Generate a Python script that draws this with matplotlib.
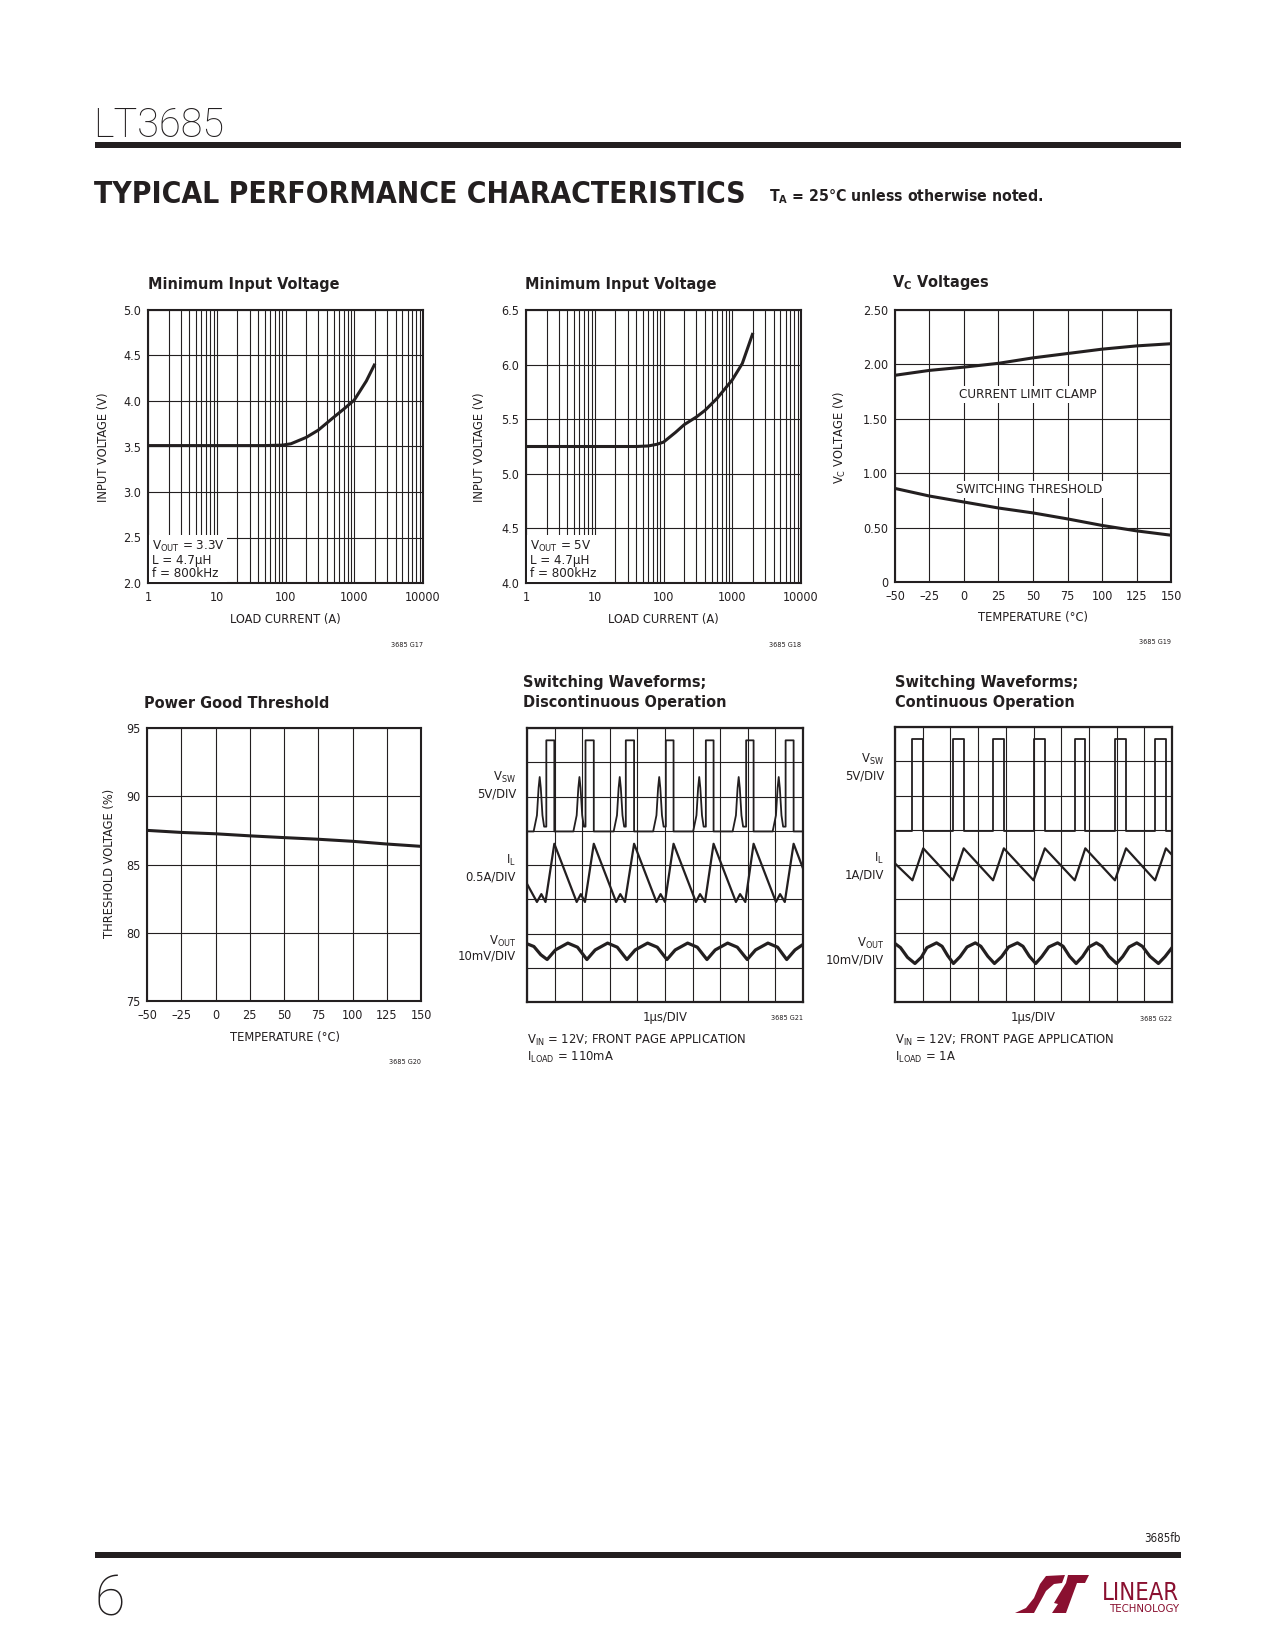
import matplotlib
matplotlib.use('Agg')
import matplotlib.pyplot as plt
from matplotlib.patches import Rectangle, Polygon
from matplotlib.ticker import LogLocator, NullFormatter, FixedLocator

# ---------------- data ----------------
load1 = [1, 10, 50, 90, 120, 200, 300, 500, 700, 1000, 1500, 2000]
vin1 = [3.51, 3.51, 3.51, 3.515, 3.53, 3.60, 3.68, 3.82, 3.91, 4.01, 4.22, 4.41]

load2 = [1, 10, 40, 60, 80, 100, 150, 200, 300, 400, 600, 1000, 1400, 2000]
vin2 = [5.25, 5.25, 5.25, 5.255, 5.27, 5.29, 5.38, 5.45, 5.52, 5.58, 5.69, 5.86, 6.01, 6.29]

temp = [-50, -25, 0, 25, 50, 75, 100, 125, 150]
vc_clamp = [1.90, 1.945, 1.975, 2.01, 2.06, 2.10, 2.14, 2.17, 2.19]
vc_switch = [0.86, 0.79, 0.735, 0.68, 0.635, 0.58, 0.52, 0.47, 0.43]
pg_thresh = [87.5, 87.35, 87.25, 87.1, 86.97, 86.85, 86.7, 86.5, 86.33]

log_ticks = [1, 10, 100, 1000, 10000]
log_ticklabels = ['1', '10', '100', '1000', '10000']
temp_ticks = [-50, -25, 0, 25, 50, 75, 100, 125, 150]
temp_ticklabels = ['\u201350', '\u201325', '0', '25', '50', '75', '100', '125', '150']

# scope traces (x in divisions 0..10, y in divisions 0..8)
dcm_sw_ring = [0.46, 1.90, 3.36, 4.79, 6.24, 7.67, 9.12]
dcm_sw_rise = [0.70, 2.12, 3.58, 5.03, 6.48, 7.94, 9.37]
dcm_sw_fall = [0.99, 2.42, 3.88, 5.31, 6.76, 8.21, 9.66]
dcm_sw_levels = {'base': 4.98, 'ring': 6.57, 'high': 7.64}

dcm_il_t = [0, 0.36, 0.52, 0.67, 0.99, 1.80, 1.95, 2.10, 2.42, 3.23, 3.38, 3.55, 3.88,
            4.69, 4.84, 5.00, 5.31, 6.12, 6.27, 6.45, 6.76, 7.57, 7.72, 7.91, 8.21,
            9.02, 9.17, 9.34, 9.66, 10.0]
dcm_il_v = [3.45, 2.92, 3.15, 2.92, 4.62, 2.92, 3.15, 2.92, 4.62, 2.92, 3.15, 2.92, 4.62,
            2.92, 3.15, 2.92, 4.62, 2.92, 3.15, 2.92, 4.62, 2.92, 3.15, 2.92, 4.62,
            2.92, 3.15, 2.92, 4.62, 3.90]

dcm_vout_t = [0, 0.25, 0.5, 0.73, 1.03, 1.48, 1.83, 2.17, 2.47, 2.92, 3.27, 3.62,
              3.92, 4.37, 4.72, 5.07, 5.37, 5.82, 6.17, 6.52, 6.82, 7.27, 7.62, 7.98,
              8.28, 8.73, 9.08, 9.41, 9.71, 10.0]
dcm_vout_v = [1.70, 1.62, 1.38, 1.24, 1.52, 1.72, 1.60, 1.24, 1.52, 1.72, 1.60, 1.24,
              1.52, 1.72, 1.60, 1.24, 1.52, 1.72, 1.60, 1.24, 1.52, 1.72, 1.60, 1.24,
              1.52, 1.72, 1.60, 1.24, 1.52, 1.68]

ccm_sw_rise = [0.63, 2.09, 3.54, 5.00, 6.49, 7.94, 9.39]
ccm_sw_fall = [1.02, 2.48, 3.93, 5.41, 6.87, 8.34, 9.78]
ccm_sw_levels = {'base': 4.97, 'high': 7.65}

ccm_il_t = [0, 0.63, 1.02, 2.09, 2.48, 3.54, 3.93, 5.00, 5.41, 6.49, 6.87, 7.94, 8.34,
            9.39, 9.78, 10.0]
ccm_il_v = [4.03, 3.54, 4.47, 3.54, 4.47, 3.54, 4.47, 3.54, 4.47, 3.54, 4.47, 3.54, 4.47,
            3.54, 4.47, 4.28]

ccm_vout_t = [0, 0.2, 0.45, 0.72, 0.95, 1.15, 1.5, 1.7, 1.9, 2.11, 2.35, 2.6, 2.9, 3.1,
              3.35, 3.59, 3.85, 4.1, 4.42, 4.62, 4.85, 5.08, 5.3, 5.55, 5.87, 6.07, 6.3,
              6.54, 6.77, 7.0, 7.27, 7.47, 7.72, 8.0, 8.22, 8.45, 8.73, 8.93, 9.2, 9.51,
              9.75, 10.0]
ccm_vout_v = [1.70, 1.58, 1.30, 1.12, 1.30, 1.58, 1.72, 1.62, 1.35, 1.12, 1.32, 1.60, 1.72,
              1.62, 1.33, 1.12, 1.32, 1.60, 1.72, 1.62, 1.33, 1.12, 1.32, 1.60, 1.72, 1.62,
              1.33, 1.12, 1.32, 1.60, 1.72, 1.62, 1.33, 1.12, 1.32, 1.60, 1.72, 1.62, 1.33,
              1.12, 1.32, 1.58]

# ---------------- figure ----------------
W, H = 1275, 1650
plt.rcParams['font.family'] = ['DejaVu Sans']
plt.rcParams['font.stretch'] = 'condensed'
plt.rcParams['mathtext.default'] = 'regular'
INK = '#231f20'

fig = plt.figure(figsize=(W / 100, H / 100), dpi=100)


def ax_px(l, t, r, b):
    return fig.add_axes([l / W, 1 - b / H, (r - l) / W, (b - t) / H])


def ftext(x, y, s, **kw):
    kw.setdefault('color', INK)
    return fig.text(x / W, 1 - y / H, s, **kw)


def frect(l, t, r, b, color):
    fig.add_artist(Rectangle((l / W, 1 - b / H), (r - l) / W, (b - t) / H,
                             transform=fig.transFigure, fc=color, ec='none'))


TICK_FS = 9.0
LAB_FS = 9.2
TITLE_FS = 11.6
CODE_FS = 5.2


def style_axes(ax):
    for sp in ax.spines.values():
        sp.set_linewidth(1.5)
        sp.set_color(INK)
    ax.tick_params(which='both', length=0, labelsize=TICK_FS, colors=INK)
    ax.tick_params(axis='x', pad=6.0)
    ax.tick_params(axis='y', pad=5)
    ax.set_axisbelow(True)


# ---------------- header ----------------
ftext(93, 137, 'LT3685', fontsize=28.5, family=['Roboto', 'DejaVu Sans'], fontweight='light',
      va='baseline', ha='left')
frect(95, 142, 1181, 148, INK)
ftext(94, 203, 'TYPICAL PERFORMANCE CHARACTERISTICS', fontsize=21.5, fontweight='bold',
      va='baseline', ha='left')
ftext(769, 201, r'T$_{A}$ = 25°C unless otherwise noted.', fontsize=11.3, fontweight='bold',
      va='baseline', ha='left')

# ---------------- chart 1 ----------------
ax1 = ax_px(148, 310, 423, 583)
ax1.set_xscale('log')
ax1.plot(load1, vin1, color=INK, lw=2.2, solid_capstyle='butt')
ax1.set_xlim(1, 10000)
ax1.set_ylim(2.0, 5.0)
ax1.set_xticks(log_ticks)
ax1.set_xticklabels(log_ticklabels)
ax1.xaxis.set_minor_locator(LogLocator(base=10, subs=range(2, 10)))
ax1.xaxis.set_minor_formatter(NullFormatter())
ax1.set_yticks([2.0, 2.5, 3.0, 3.5, 4.0, 4.5, 5.0])
ax1.set_yticklabels(['2.0', '2.5', '3.0', '3.5', '4.0', '4.5', '5.0'])
ax1.grid(which='both', color=INK, lw=0.8)
style_axes(ax1)
ax1.text(0.014, 0.012, 'V$_{OUT}$ = 3.3V\nL = 4.7\u03bcH\nf = 800kHz', transform=ax1.transAxes,
         fontsize=9.5, color=INK, ha='left', va='bottom', linespacing=1.0,
         bbox=dict(fc='white', ec='none', pad=2))
ftext(148, 285, 'Minimum Input Voltage', fontsize=TITLE_FS, fontweight='bold', va='center')
ftext(103, 447, 'INPUT VOLTAGE (V)', fontsize=LAB_FS, rotation=90, va='center', ha='center')
ftext(285, 620, 'LOAD CURRENT (A)', fontsize=LAB_FS, va='center', ha='center')
ftext(423, 645, '3685 G17', fontsize=CODE_FS, va='center', ha='right')

# ---------------- chart 2 ----------------
ax2 = ax_px(526, 310, 801, 583)
ax2.set_xscale('log')
ax2.plot(load2, vin2, color=INK, lw=2.2, solid_capstyle='butt')
ax2.set_xlim(1, 10000)
ax2.set_ylim(4.0, 6.5)
ax2.set_xticks(log_ticks)
ax2.set_xticklabels(log_ticklabels)
ax2.xaxis.set_minor_locator(LogLocator(base=10, subs=range(2, 10)))
ax2.xaxis.set_minor_formatter(NullFormatter())
ax2.set_yticks([4.0, 4.5, 5.0, 5.5, 6.0, 6.5])
ax2.set_yticklabels(['4.0', '4.5', '5.0', '5.5', '6.0', '6.5'])
ax2.grid(which='both', color=INK, lw=0.8)
style_axes(ax2)
ax2.text(0.014, 0.012, 'V$_{OUT}$ = 5V\nL = 4.7\u03bcH\nf = 800kHz', transform=ax2.transAxes,
         fontsize=9.5, color=INK, ha='left', va='bottom', linespacing=1.0,
         bbox=dict(fc='white', ec='none', pad=2))
ftext(525, 285, 'Minimum Input Voltage', fontsize=TITLE_FS, fontweight='bold', va='center')
ftext(480, 447, 'INPUT VOLTAGE (V)', fontsize=LAB_FS, rotation=90, va='center', ha='center')
ftext(663, 620, 'LOAD CURRENT (A)', fontsize=LAB_FS, va='center', ha='center')
ftext(801, 645, '3685 G18', fontsize=CODE_FS, va='center', ha='right')

# ---------------- chart 3 ----------------
ax3 = ax_px(895, 310, 1171, 582)
ax3.plot(temp, vc_clamp, color=INK, lw=2.2)
ax3.plot(temp, vc_switch, color=INK, lw=2.2)
ax3.set_xlim(-50, 150)
ax3.set_ylim(0, 2.5)
ax3.set_xticks(temp_ticks)
ax3.set_xticklabels(temp_ticklabels)
ax3.set_yticks([0, 0.5, 1.0, 1.5, 2.0, 2.5])
ax3.set_yticklabels(['0', '0.50', '1.00', '1.50', '2.00', '2.50'])
ax3.grid(color=INK, lw=0.8)
style_axes(ax3)
ax3.text(46, 1.72, 'CURRENT LIMIT CLAMP', fontsize=9.6, color=INK, ha='center', va='center',
         bbox=dict(fc='white', ec='none', pad=1.5))
ax3.text(47, 0.85, 'SWITCHING THRESHOLD', fontsize=9.6, color=INK, ha='center', va='center',
         bbox=dict(fc='white', ec='none', pad=1.5))
ftext(892, 283, 'V$_{C}$ Voltages', fontsize=TITLE_FS, fontweight='bold', va='center')
ftext(840, 437, 'V$_{C}$ VOLTAGE (V)', fontsize=LAB_FS, rotation=90, va='center', ha='center')
ftext(1033, 618, 'TEMPERATURE (°C)', fontsize=LAB_FS, va='center', ha='center')
ftext(1171, 642, '3685 G19', fontsize=CODE_FS, va='center', ha='right')

# ---------------- chart 4 ----------------
ax4 = ax_px(147, 728, 421, 1001)
ax4.plot(temp, pg_thresh, color=INK, lw=2.2)
ax4.set_xlim(-50, 150)
ax4.set_ylim(75, 95)
ax4.set_xticks(temp_ticks)
ax4.set_xticklabels(temp_ticklabels)
ax4.set_yticks([75, 80, 85, 90, 95])
ax4.set_yticklabels(['75', '80', '85', '90', '95'])
ax4.grid(color=INK, lw=0.8)
style_axes(ax4)
ftext(144, 703, 'Power Good Threshold', fontsize=TITLE_FS, fontweight='bold', va='center')
ftext(110, 863, 'THRESHOLD VOLTAGE (%)', fontsize=LAB_FS, rotation=90, va='center', ha='center')
ftext(285, 1038, 'TEMPERATURE (°C)', fontsize=LAB_FS, va='center', ha='center')
ftext(421, 1062, '3685 G20', fontsize=CODE_FS, va='center', ha='right')


# ---------------- scope charts ----------------
def scope_axes(l, t, r, b):
    ax = ax_px(l, t, r, b)
    ax.set_xlim(0, 10)
    ax.set_ylim(0, 8)
    ax.xaxis.set_major_locator(FixedLocator(range(11)))
    ax.yaxis.set_major_locator(FixedLocator(range(9)))
    ax.grid(color=INK, lw=0.8)
    ax.set_axisbelow(True)
    ax.tick_params(length=0, labelbottom=False, labelleft=False)
    for sp in ax.spines.values():
        sp.set_linewidth(1.6)
        sp.set_color(INK)
    return ax


SFS = 9.3

# discontinuous
ax5 = scope_axes(527, 728, 803, 1002)
lv = dcm_sw_levels
sx, sy = [0.0], [lv['base']]
for rp, r, f in zip(dcm_sw_ring, dcm_sw_rise, dcm_sw_fall):
    sx += [rp - 0.22, rp - 0.1, rp - 0.04, rp, rp + 0.04, rp + 0.1, rp + 0.16, r, r, f, f]
    sy += [lv['base'], 5.45, 6.25, lv['ring'], 6.25, 5.45, 5.12, 5.12, lv['high'], lv['high'], lv['base']]
sx += [10.0]
sy += [lv['base']]
ax5.plot(sx, sy, color=INK, lw=1.3)
ax5.plot(dcm_il_t, dcm_il_v, color=INK, lw=1.6)
ax5.plot(dcm_vout_t, dcm_vout_v, color=INK, lw=2.3)

ftext(523, 682, 'Switching Waveforms;', fontsize=TITLE_FS, fontweight='bold', va='center')
ftext(523, 703, 'Discontinuous Operation', fontsize=TITLE_FS, fontweight='bold', va='center')
ftext(516, 777, 'V$_{SW}$', fontsize=SFS, ha='right', va='center')
ftext(516, 794, '5V/DIV', fontsize=SFS, ha='right', va='center')
ftext(516, 860, 'I$_{L}$', fontsize=SFS, ha='right', va='center')
ftext(516, 877, '0.5A/DIV', fontsize=SFS, ha='right', va='center')
ftext(516, 941, 'V$_{OUT}$', fontsize=SFS, ha='right', va='center')
ftext(516, 956, '10mV/DIV', fontsize=SFS, ha='right', va='center')
ftext(665, 1018, '1\u03bcs/DIV', fontsize=SFS, ha='center', va='center')
ftext(803, 1018, '3685 G21', fontsize=CODE_FS, ha='right', va='center')
ftext(527, 1040, 'V$_{IN}$ = 12V; FRONT PAGE APPLICATION', fontsize=SFS, ha='left', va='center')
ftext(527, 1057, 'I$_{LOAD}$ = 110mA', fontsize=SFS, ha='left', va='center')

# continuous
ax6 = scope_axes(895, 727, 1172, 1002)
lv = ccm_sw_levels
sx, sy = [0.0], [lv['base']]
for r, f in zip(ccm_sw_rise, ccm_sw_fall):
    sx += [r, r, f, f]
    sy += [lv['base'], lv['high'], lv['high'], lv['base']]
sx += [10.0]
sy += [lv['base']]
ax6.plot(sx, sy, color=INK, lw=1.3)
ax6.plot(ccm_il_t, ccm_il_v, color=INK, lw=1.6)
ax6.plot(ccm_vout_t, ccm_vout_v, color=INK, lw=2.3)

ftext(895, 682, 'Switching Waveforms;', fontsize=TITLE_FS, fontweight='bold', va='center')
ftext(895, 703, 'Continuous Operation', fontsize=TITLE_FS, fontweight='bold', va='center')
ftext(884, 759, 'V$_{SW}$', fontsize=SFS, ha='right', va='center')
ftext(884, 776, '5V/DIV', fontsize=SFS, ha='right', va='center')
ftext(884, 858, 'I$_{L}$', fontsize=SFS, ha='right', va='center')
ftext(884, 875, '1A/DIV', fontsize=SFS, ha='right', va='center')
ftext(884, 943, 'V$_{OUT}$', fontsize=SFS, ha='right', va='center')
ftext(884, 960, '10mV/DIV', fontsize=SFS, ha='right', va='center')
ftext(1033, 1018, '1\u03bcs/DIV', fontsize=SFS, ha='center', va='center')
ftext(1172, 1019, '3685 G22', fontsize=CODE_FS, ha='right', va='center')
ftext(895, 1040, 'V$_{IN}$ = 12V; FRONT PAGE APPLICATION', fontsize=SFS, ha='left', va='center')
ftext(895, 1057, 'I$_{LOAD}$ = 1A', fontsize=SFS, ha='left', va='center')

# ---------------- footer ----------------
ftext(1181, 1539, '3685fb', fontsize=8.3, ha='right', va='center')
frect(95, 1552, 1181, 1558, INK)
ftext(95, 1616, '6', fontsize=40, family=['Roboto', 'DejaVu Sans'], fontweight='light',
      ha='left', va='baseline')

RED = '#8a1030'


def fpoly(pts, color):
    fig.add_artist(Polygon([(x / W, 1 - y / H) for x, y in pts], closed=True,
                           transform=fig.transFigure, fc=color, ec='none'))


# LT mark: swoosh + slanted T
fpoly([(1015, 1613), (1034, 1613), (1040, 1602), (1046, 1591), (1054, 1584), (1062, 1583),
       (1065, 1575), (1046, 1576), (1040, 1584), (1034, 1598), (1026, 1608)], RED)
fpoly([(1068, 1575), (1089, 1575), (1085, 1583), (1077, 1583), (1066, 1613), (1052, 1613),
       (1058, 1604), (1054, 1603), (1066, 1583)], RED)
ftext(1179, 1600, 'LINEAR', fontsize=17, color=RED, ha='right', va='baseline')
ftext(1179, 1612, 'TECHNOLOGY', fontsize=8.2, color=RED, ha='right', va='baseline')

fig.savefig('out.png', dpi=100, facecolor='white')
